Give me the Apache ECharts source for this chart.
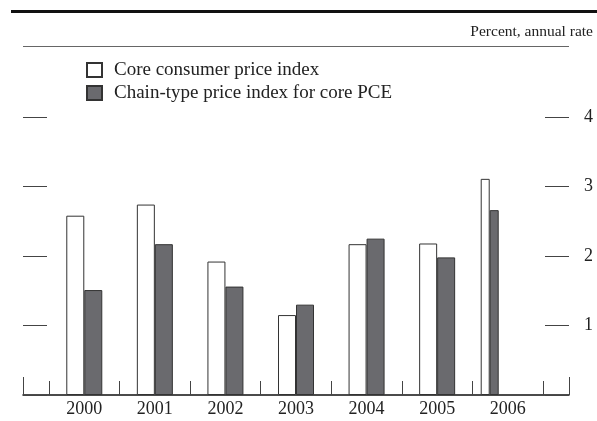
<!DOCTYPE html>
<html>
<head>
<meta charset="utf-8">
<script src="https://cdn.jsdelivr.net/npm/echarts@6/dist/echarts.min.js"></script>
<style>
  html, body { margin: 0; padding: 0; background: #fff; }
  #chart { width: 597px; height: 421px; }
</style>
</head>
<body>
<div id="chart"></div>
<script>
// Annual inflation, core CPI vs. core PCE price index
const years = ['2000', '2001', '2002', '2003', '2004', '2005', '2006'];
const cpi = [2.58, 2.74, 1.92, 1.15, 2.17, 2.18, 3.11];
const pce = [1.51, 2.17, 1.56, 1.30, 2.25, 1.98, 2.66];
const yTicks = [0, 1, 2, 3, 4];
const cpiName = 'Core consumer price index';
const pceName = 'Chain-type price index for core PCE';
const unitLabel = 'Percent, annual rate';

const lastIdx = years.length - 1;
// full years use wide bars; the partial latest year is drawn narrower
const fullYear = arr => arr.map((v, i) => (i === lastIdx ? '-' : v));
const partYear = arr => arr.map((v, i) => (i === lastIdx ? v : '-'));

const FONT = '"Liberation Serif", "Times New Roman", serif';
const INK = '#222';
const GRAY = '#6a6a6e';

const gridTop = 117, gridBottom = 26;

const whiteStyle = { color: '#fff', borderColor: '#333', borderWidth: 1 };
const grayStyle = { color: GRAY, borderColor: '#333', borderWidth: 1 };

const chart = echarts.init(document.getElementById('chart'), null, { renderer: 'canvas' });

chart.setOption({
  animation: false,
  backgroundColor: '#fff',
  textStyle: { fontFamily: FONT },
  title: {
    text: unitLabel,
    right: 4,
    top: 24,
    padding: 0,
    textStyle: { fontFamily: FONT, fontSize: 15.5, fontWeight: 'normal', color: INK }
  },
  legend: {
    data: [cpiName, pceName],
    orient: 'vertical',
    left: 86,
    top: 60.5,
    padding: 0,
    itemWidth: 15,
    itemHeight: 14,
    itemGap: 4,
    icon: 'rect',
    selectedMode: false,
    textStyle: { fontFamily: FONT, fontSize: 19, color: INK, lineHeight: 19, padding: [0, 0, 0, 7] }
  },
  graphic: [
    { type: 'line', shape: { x1: 11, y1: 11.5, x2: 597, y2: 11.5 }, style: { stroke: '#111', lineWidth: 3 } },
    { type: 'line', shape: { x1: 23, y1: 46.5, x2: 569, y2: 46.5 }, style: { stroke: '#666', lineWidth: 1 } }
  ],
  grid: [
    { left: 49, right: 54, top: gridTop, bottom: gridBottom },
    { left: 23, right: 28, top: gridTop, bottom: gridBottom }
  ],
  xAxis: [
    {
      gridIndex: 0,
      type: 'category',
      data: years,
      axisLine: { show: false },
      axisTick: { show: true, inside: true, length: 14, interval: 0, alignWithLabel: false, lineStyle: { color: '#444', width: 1 } },
      axisLabel: { fontFamily: FONT, fontSize: 18, color: INK, margin: 5, interval: 0 },
      splitLine: { show: false }
    },
    {
      gridIndex: 0,
      type: 'category',
      data: years,
      show: false
    },
    {
      gridIndex: 1,
      type: 'value',
      min: 0, max: 1, interval: 1,
      axisLine: { show: true, onZero: false, lineStyle: { color: '#111', width: 1.5 } },
      axisTick: { show: true, inside: true, length: 18, lineStyle: { color: '#444', width: 1 } },
      axisLabel: { show: false },
      splitLine: { show: false }
    }
  ],
  yAxis: [
    { gridIndex: 0, type: 'value', min: 0, max: 4, show: false },
    {
      gridIndex: 1,
      type: 'value',
      position: 'left',
      min: yTicks[0], max: yTicks[yTicks.length - 1], interval: 1,
      axisLine: { show: false },
      axisTick: { show: true, inside: true, length: 24, lineStyle: { color: '#444', width: 1 } },
      axisLabel: { show: false },
      splitLine: { show: false }
    },
    {
      gridIndex: 1,
      type: 'value',
      position: 'right',
      min: yTicks[0], max: yTicks[yTicks.length - 1], interval: 1,
      axisLine: { show: false },
      axisTick: { show: true, inside: true, length: 24, lineStyle: { color: '#444', width: 1 } },
      axisLabel: {
        show: true, margin: 15, fontFamily: FONT, fontSize: 18, color: INK,
        formatter: v => (v === 0 ? '' : String(v))
      },
      splitLine: { show: false }
    }
  ],
  series: [
    {
      name: cpiName, type: 'bar', xAxisIndex: 0, yAxisIndex: 0,
      data: fullYear(cpi), barWidth: 18, barGap: 0, itemStyle: whiteStyle
    },
    {
      name: pceName, type: 'bar', xAxisIndex: 0, yAxisIndex: 0,
      data: fullYear(pce), barWidth: 18, barGap: 0, itemStyle: grayStyle
    },
    {
      name: cpiName, type: 'bar', xAxisIndex: 1, yAxisIndex: 0,
      data: partYear(cpi), barWidth: 9, barGap: 0, itemStyle: whiteStyle
    },
    {
      name: pceName, type: 'bar', xAxisIndex: 1, yAxisIndex: 0,
      data: partYear(pce), barWidth: 9, barGap: 0, itemStyle: grayStyle
    },
    {
      // empty slot keeping the partial-year pair left of the year center
      name: 'slot', type: 'bar', xAxisIndex: 1, yAxisIndex: 0,
      data: years.map(() => '-'), barWidth: 36, barGap: 0, silent: true,
      itemStyle: { color: 'transparent' }
    }
  ]
});
</script>
</body>
</html>
